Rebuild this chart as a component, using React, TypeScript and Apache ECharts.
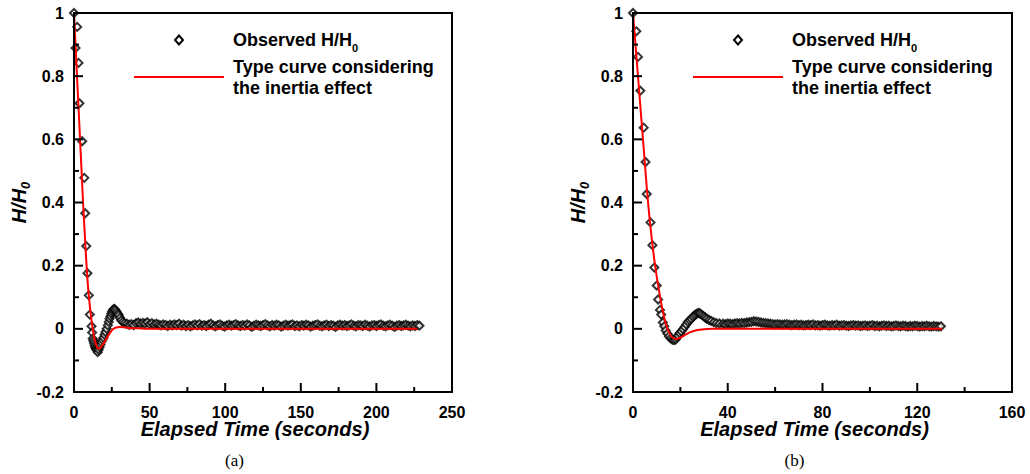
import React, { useEffect, useRef } from "react";
import * as echarts from "echarts";

// ---------- Panel (a) ----------
const obsA_t = [0, 1.0, 2.1, 3.0, 3.6, 5.4, 6.8, 7.4, 8.1, 8.9, 9.8, 10.5, 11.6, 12.0, 12.4, 12.8, 13.2, 13.6, 14.0, 14.5, 14.8, 15.1, 15.7, 16.3, 16.9, 17.5, 18.0, 18.8, 19.5, 20.2, 20.8, 21.6, 22.4, 23.0, 23.5, 24.1, 24.6, 25.2, 25.7, 26.3, 26.8, 27.5, 28.3, 29.0, 29.6, 30.4, 31.2, 32.3, 33.4];
const obsA_y = [1.0, 0.889, 0.956, 0.842, 0.714, 0.594, 0.478, 0.366, 0.262, 0.176, 0.106, 0.045, 0.008, -0.012, -0.031, -0.038, -0.045, -0.052, -0.058, -0.062, -0.065, -0.068, -0.074, -0.066, -0.058, -0.05, -0.042, -0.035, -0.028, -0.019, -0.01, 0.0, 0.011, 0.022, 0.032, 0.04, 0.048, 0.054, 0.059, 0.062, 0.063, 0.059, 0.053, 0.048, 0.043, 0.035, 0.027, 0.022, 0.018];
// plateau: sampled every 1.5 s from 35 s
const obsA_tailStart = 35;
const obsA_tailStep = 1.5;
const obsA_tail = [
  0.016, 0.013, 0.015, 0.012, 0.018, 0.02, 0.016, 0.019, 0.017, 0.021,
  0.015, 0.018, 0.014, 0.016, 0.013, 0.011, 0.014, 0.012, 0.009, 0.013,
  0.011, 0.014, 0.012, 0.016, 0.01, 0.013, 0.009, 0.012, 0.008, 0.011,
  0.014, 0.011, 0.015, 0.01, 0.012, 0.009, 0.013, 0.016, 0.011, 0.008,
  0.012, 0.014, 0.01, 0.007, 0.011, 0.013, 0.01, 0.012, 0.015, 0.011,
  0.009, 0.012, 0.01, 0.014, 0.011, 0.006, 0.01, 0.013, 0.011, 0.009,
  0.012, 0.015, 0.011, 0.008, 0.012, 0.01, 0.013, 0.011, 0.007, 0.01,
  0.013, 0.01, 0.012, 0.014, 0.009, 0.011, 0.008, 0.012, 0.01, 0.013,
  0.011, 0.007, 0.01, 0.012, 0.014, 0.01, 0.008, 0.011, 0.013, 0.009,
  0.012, 0.01, 0.006, 0.011, 0.013, 0.01, 0.012, 0.009, 0.011, 0.014,
  0.01, 0.008, 0.012, 0.011, 0.009, 0.013, 0.01, 0.007, 0.011, 0.012,
  0.009, 0.012, 0.014, 0.01, 0.008, 0.011, 0.013, 0.01, 0.006, 0.01,
  0.012, 0.009, 0.011, 0.013, 0.01, 0.008, 0.011, 0.009, 0.012, 0.01,
];
const typeA_t = [0, 1, 2, 3, 4, 5, 6, 7, 8, 9, 10, 11, 12, 13, 14, 15, 16, 17, 18, 19, 20, 21, 22, 23, 24, 25, 26, 28, 30, 33, 36, 40, 45, 50, 100, 227];
const typeA_y = [1.0, 0.9, 0.8, 0.7, 0.6, 0.5, 0.4, 0.31, 0.225, 0.15, 0.095, 0.05, 0.012, -0.018, -0.04, -0.055, -0.063, -0.062, -0.057, -0.05, -0.043, -0.035, -0.026, -0.018, -0.011, -0.005, 0.0, 0.004, 0.006, 0.005, 0.003, 0.002, 0.001, 0, 0, 0];

// ---------- Panel (b) ----------
const obsB_t = [0, 1.4, 2.1, 3.1, 4.5, 5.3, 5.8, 7.4, 8.2, 9.0, 10.0, 10.6, 11.4, 11.9, 12.6, 13.2, 13.8, 14.5, 15.2, 15.9, 16.6, 17.3, 18.0, 18.5, 19.0, 19.7, 20.4, 21.1, 21.8, 22.5, 23.2, 23.9, 24.6, 25.3, 26.0, 26.7, 27.4, 27.9, 28.4, 29.1, 29.8, 30.5, 31.2, 32.1, 33.0, 34.1, 35.2, 36.5];
const obsB_y = [1.0, 0.942, 0.861, 0.754, 0.637, 0.528, 0.427, 0.337, 0.265, 0.194, 0.137, 0.093, 0.06, 0.045, 0.02, 0.008, -0.005, -0.015, -0.024, -0.03, -0.034, -0.036, -0.034, -0.028, -0.021, -0.014, -0.008, -0.001, 0.006, 0.014, 0.022, 0.027, 0.032, 0.038, 0.043, 0.047, 0.05, 0.05, 0.048, 0.044, 0.04, 0.036, 0.032, 0.028, 0.025, 0.021, 0.018, 0.017];
// plateau: sampled every 1 s from 38 s
const obsB_tailStart = 38;
const obsB_tailStep = 1;
const obsB_tail = [
  0.016, 0.015, 0.017, 0.016, 0.015, 0.017, 0.018, 0.017, 0.019, 0.018,
  0.02, 0.021, 0.022, 0.024, 0.023, 0.022, 0.02, 0.019, 0.018, 0.017,
  0.016, 0.015, 0.014, 0.015, 0.014, 0.013, 0.014, 0.015, 0.013, 0.012,
  0.013, 0.014, 0.012, 0.013, 0.011, 0.012, 0.013, 0.012, 0.014, 0.011,
  0.012, 0.01, 0.012, 0.013, 0.011, 0.01, 0.012, 0.011, 0.013, 0.01,
  0.011, 0.012, 0.01, 0.009, 0.011, 0.012, 0.01, 0.011, 0.009, 0.01,
  0.011, 0.009, 0.01, 0.012, 0.009, 0.01, 0.008, 0.01, 0.011, 0.009,
  0.01, 0.008, 0.009, 0.011, 0.009, 0.008, 0.01, 0.009, 0.007, 0.009,
  0.008, 0.01, 0.009, 0.007, 0.009, 0.008, 0.01, 0.008, 0.007, 0.009,
  0.008, 0.007, 0.008,
];
const typeB_t = [0, 1, 2, 3, 4, 5, 6, 7, 8, 9, 10, 11, 12, 13, 14, 15, 16, 17, 18, 19, 20, 21, 22, 23, 24, 26, 28, 30, 33, 40, 60, 130.5];
const typeB_y = [1.0, 0.905, 0.81, 0.715, 0.62, 0.525, 0.43, 0.35, 0.28, 0.218, 0.166, 0.12, 0.078, 0.042, 0.012, -0.008, -0.022, -0.029, -0.032, -0.031, -0.028, -0.024, -0.019, -0.015, -0.011, -0.006, -0.003, -0.001, 0, 0, 0, 0];

// ---------- Axes ----------
type Range = { min: number; max: number; interval: number };
const yRange: Range = { min: -0.2, max: 1, interval: 0.2 };
const xRangeA: Range = { min: 0, max: 250, interval: 50 };
const xRangeB: Range = { min: 0, max: 160, interval: 40 };
// tick positions (major / minor)
const yMajor = [-0.2, 0, 0.2, 0.4, 0.6, 0.8, 1];
const yMinor = [-0.1, 0.1, 0.3, 0.5, 0.7, 0.9];
const xMajorA = [0, 50, 100, 150, 200, 250];
const xMinorA = [25, 75, 125, 175, 225];
const xMajorB = [0, 40, 80, 120, 160];
const xMinorB = [20, 60, 100, 140];

const SANS = "Liberation Sans, Arial, sans-serif";
const INK = "#000000";
const MAJOR_LEN = 9;
const MINOR_LEN = 5;
const FRAME_W = 2;
const TICK_W = 2;

function pairs(t: number[], y: number[]) {
  return t.map((v, i) => [v, y[i]]);
}
function tailPairs(start: number, step: number, ys: number[]) {
  return ys.map((v, i) => [start + i * step, v]);
}

function xAxisFor(gridIndex: number, r: Range) {
  return {
    type: "value",
    gridIndex,
    min: r.min,
    max: r.max,
    interval: r.interval,
    axisLine: { show: false, onZero: false },
    axisTick: { show: false },
    splitLine: { show: false },
    axisLabel: { show: true, color: "#000", fontFamily: SANS, fontWeight: "bold", fontSize: 16, margin: 12 },
    name: "Elapsed Time (seconds)",
    nameLocation: "middle",
    nameGap: 27,
    nameMoveOverlap: false,
    nameTextStyle: {
      color: "#000",
      fontFamily: SANS,
      fontWeight: "bold",
      fontStyle: "italic",
      fontSize: 20,
      padding: [0, 16, 0, 0],
    },
  };
}

function yAxisFor(gridIndex: number) {
  return {
    type: "value",
    gridIndex,
    min: yRange.min,
    max: yRange.max,
    interval: yRange.interval,
    axisLine: { show: false, onZero: false },
    axisTick: { show: false },
    splitLine: { show: false },
    axisLabel: { show: true, color: "#000", fontFamily: SANS, fontWeight: "bold", fontSize: 16, margin: 10 },
    name: "{a|H/H}{b|0}",
    nameLocation: "middle",
    nameGap: 43,
    nameMoveOverlap: false,
    nameTextStyle: {
      color: "#000",
      rich: {
        a: { fontFamily: SANS, fontWeight: "bold", fontStyle: "italic", fontSize: 20, lineHeight: 22, verticalAlign: "top", color: "#000" },
        b: { fontFamily: SANS, fontWeight: "bold", fontStyle: "italic", fontSize: 13, lineHeight: 13, verticalAlign: "top", padding: [10, 0, 0, 0], color: "#000" },
      },
    },
  };
}

const legendRich = {
  t: { fontFamily: SANS, fontWeight: "bold", fontSize: 18, lineHeight: 21, fill: "#000" },
  s: { fontFamily: SANS, fontWeight: "bold", fontSize: 11, lineHeight: 11, verticalAlign: "top", padding: [13, 0, 0, 0], fill: "#000" },
};

function legendGraphic(dx: number) {
  return [
    {
      type: "polygon",
      z: 100,
      shape: { points: [[dx + 179, 35.5], [dx + 183, 40], [dx + 179, 44.5], [dx + 175, 40]] },
      style: { fill: "#fff", stroke: "#000", lineWidth: 2 },
    },
    {
      type: "rect",
      z: 100,
      shape: { x: dx + 134, y: 76, width: 90, height: 2 },
      style: { fill: "#ff0000" },
    },
    {
      type: "text",
      z: 100,
      x: dx + 233,
      y: 40,
      style: { text: "{t|Observed H/H}{s|0}", rich: legendRich, textVerticalAlign: "middle", verticalAlign: "middle" },
    },
    {
      type: "text",
      z: 100,
      x: dx + 233,
      y: 77,
      style: { text: "{t|Type curve considering}\n{t|the inertia effect}", rich: legendRich, textVerticalAlign: "middle", verticalAlign: "middle" },
    },
  ];
}

// frame + inward ticks as filled bars, positioned through the axes' own scales
function frameAndTicks(chart: any, gridIndex: number, xr: Range, xMajor: number[], xMinor: number[]) {
  const finder = { gridIndex };
  const tl = chart.convertToPixel(finder, [xr.min, yRange.max]);
  const br = chart.convertToPixel(finder, [xr.max, yRange.min]);
  const x0 = tl[0], y0 = tl[1], x1 = br[0], y1 = br[1];
  const h = FRAME_W / 2;
  const bar = (x: number, y: number, w: number, hh: number) => ({
    type: "rect",
    z: 50,
    silent: true,
    shape: { x, y, width: w, height: hh },
    style: { fill: INK },
  });
  const out: any[] = [
    bar(x0 - h, y0 - h, x1 - x0 + FRAME_W, FRAME_W),
    bar(x0 - h, y1 - h, x1 - x0 + FRAME_W, FRAME_W),
    bar(x0 - h, y0 - h, FRAME_W, y1 - y0 + FRAME_W),
    bar(x1 - h, y0 - h, FRAME_W, y1 - y0 + FRAME_W),
  ];
  xMajor.forEach((v) => {
    const p = chart.convertToPixel(finder, [v, yRange.min]);
    out.push(bar(p[0] - TICK_W / 2, p[1] - MAJOR_LEN, TICK_W, MAJOR_LEN));
  });
  xMinor.forEach((v) => {
    const p = chart.convertToPixel(finder, [v, yRange.min]);
    out.push(bar(p[0] - TICK_W / 2, p[1] - MINOR_LEN, TICK_W, MINOR_LEN));
  });
  yMajor.forEach((v) => {
    const p = chart.convertToPixel(finder, [xr.min, v]);
    out.push(bar(p[0], p[1] - TICK_W / 2, MAJOR_LEN, TICK_W));
  });
  yMinor.forEach((v) => {
    const p = chart.convertToPixel(finder, [xr.min, v]);
    out.push(bar(p[0], p[1] - TICK_W / 2, MINOR_LEN, TICK_W));
  });
  return out;
}

function scatterSeries(idx: number, data: number[][]) {
  return {
    name: "Observed H/H0",
    type: "scatter",
    xAxisIndex: idx,
    yAxisIndex: idx,
    symbol: "diamond",
    symbolSize: 8,
    itemStyle: { color: "#fff", borderColor: "#000", borderWidth: 2 },
    data,
    z: 2,
  };
}
function lineSeries(idx: number, data: number[][]) {
  return {
    name: "Type curve considering the inertia effect",
    type: "line",
    xAxisIndex: idx,
    yAxisIndex: idx,
    symbol: "none",
    showSymbol: false,
    smooth: 0.3,
    lineStyle: { color: "#ff0000", width: 2 },
    itemStyle: { color: "#ff0000" },
    data,
    z: 3,
  };
}

export default function App() {
  const ref = useRef<HTMLDivElement>(null);
  useEffect(() => {
    if (!ref.current) return;
    const chart = echarts.init(ref.current, undefined, { renderer: "svg" });
    const obsA = pairs(obsA_t, obsA_y).concat(tailPairs(obsA_tailStart, obsA_tailStep, obsA_tail));
    const obsB = pairs(obsB_t, obsB_y).concat(tailPairs(obsB_tailStart, obsB_tailStep, obsB_tail));
    const option: any = {
      animation: false,
      backgroundColor: "#fff",
      grid: [
        { left: 74, top: 13, width: 378, height: 379 },
        { left: 633, top: 13, width: 379, height: 379 },
      ],
      xAxis: [xAxisFor(0, xRangeA), xAxisFor(1, xRangeB)],
      yAxis: [yAxisFor(0), yAxisFor(1)],
      series: [
        scatterSeries(0, obsA),
        lineSeries(0, pairs(typeA_t, typeA_y)),
        scatterSeries(1, obsB),
        lineSeries(1, pairs(typeB_t, typeB_y)),
      ],
    };
    chart.setOption(option);
    const graphic: any[] = [
      ...frameAndTicks(chart, 0, xRangeA, xMajorA, xMinorA),
      ...frameAndTicks(chart, 1, xRangeB, xMajorB, xMinorB),
      ...legendGraphic(0),
      ...legendGraphic(559),
      { type: "text", x: 234.5, y: 460.5, style: { text: "(a)", font: "17px 'Liberation Serif', 'Times New Roman', serif", fill: "#000", textAlign: "center", textVerticalAlign: "middle", verticalAlign: "middle" } },
      { type: "text", x: 794.5, y: 460.5, style: { text: "(b)", font: "17px 'Liberation Serif', 'Times New Roman', serif", fill: "#000", textAlign: "center", textVerticalAlign: "middle", verticalAlign: "middle" } },
    ];
    chart.setOption({ graphic });
    return () => chart.dispose();
  }, []);
  return (
    <div
      ref={ref}
      style={{ position: "absolute", left: 0, top: 0, width: 1030, height: 474, background: "#fff" }}
    />
  );
}
